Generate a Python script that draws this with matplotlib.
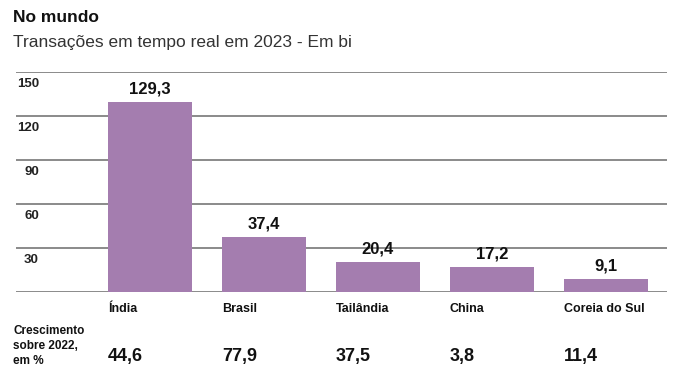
import matplotlib.pyplot as plt
import matplotlib.transforms as mtransforms

plt.rcParams['font.family'] = ['DejaVu Sans Condensed', 'Liberation Sans', 'DejaVu Sans']

paises = ["Índia", "Brasil", "Tailândia", "China", "Coreia do Sul"]
transacoes = [129.3, 37.4, 20.4, 17.2, 9.1]
crescimento = [44.6, 77.9, 37.5, 3.8, 11.4]
yticks = [30, 60, 90, 120, 150]

def br(v):
    return f"{v:.1f}".replace(".", ",")

fig = plt.figure(figsize=(6.84, 3.75), dpi=100)
ax = fig.add_axes([16/684, 1 - 292/375, 651/684, 220/375])

cor = "#a47daf"
larg = 0.737
pos = list(range(len(paises)))
ax.bar(pos, transacoes, width=larg, color=cor, zorder=2)
ax.set_xlim(-1.175, 4.535)
ax.set_ylim(0, 150)

# linhas de grade
for y in [0] + yticks:
    ax.axhline(y, color="#6b6b6b", lw=1.1, zorder=1)
    if y > 0:
        ax.annotate(str(y), xy=(0.0353, y), xycoords=ax.get_yaxis_transform(),
                    xytext=(0, -4), textcoords="offset points",
                    ha="right", va="top", fontsize=9.5, fontweight="bold", color="#222")

for s in ax.spines.values():
    s.set_visible(False)
ax.set_xticks([])
ax.set_yticks([])

# valores sobre as barras
for x, v in zip(pos, transacoes):
    ax.annotate(br(v), xy=(x, v), xytext=(0, 4), textcoords="offset points",
                ha="center", va="bottom", fontsize=12, fontweight="bold", color="#111")

trans = mtransforms.blended_transform_factory(ax.transData, fig.transFigure)
for x, p, c in zip(pos, paises, crescimento):
    ax.text(x - larg/2, 1 - 309/375, p, transform=trans, ha="left", va="center",
            fontsize=9, fontweight="bold", color="#111")
    ax.text(x - larg/2, 1 - 356/375, br(c), transform=trans, ha="left", va="center",
            fontsize=13, fontweight="bold", color="#111")

fig.text(13/684, 1 - 346/375, "Crescimento\nsobre 2022,\nem %", ha="left", va="center",
         fontsize=8.5, fontweight="bold", color="#111", linespacing=1.3)

fig.text(13/684, 1 - 17/375, "No mundo", ha="left", va="center",
         fontsize=12.5, fontweight="bold", color="#111")
fig.text(13/684, 1 - 42/375, "Transações em tempo real em 2023 - Em bi", ha="left", va="center",
         fontsize=12.5, color="#333")

fig.savefig("out.png", dpi=100)
